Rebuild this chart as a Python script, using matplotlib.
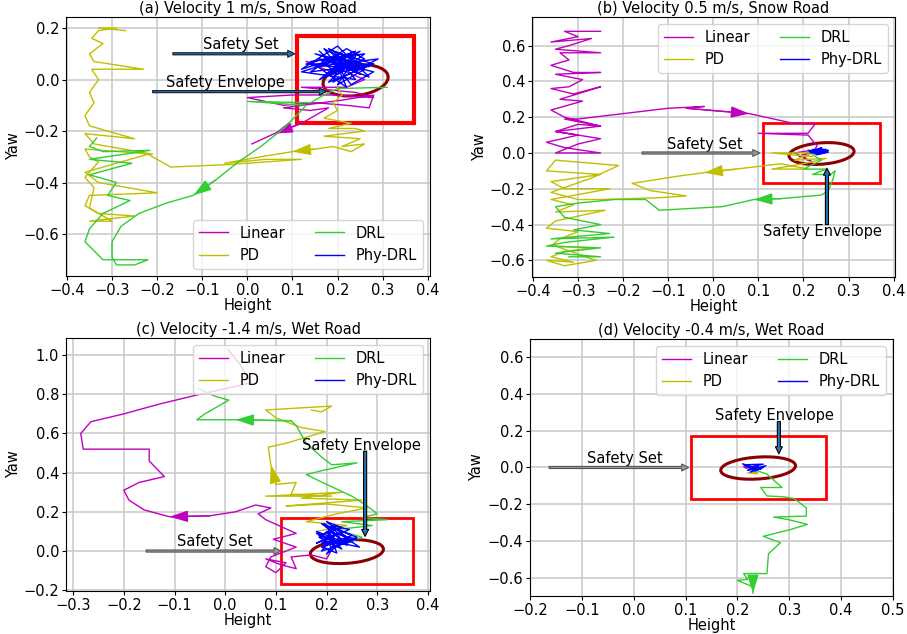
#!/usr/bin/env python
# -*- coding: utf-8 -*-

"""
Phase plots (Height vs Yaw) of four controllers, with safety set and envelope.
"""

# Third party modules.
import matplotlib
matplotlib.use("Agg")
import matplotlib.pyplot as plt
from matplotlib.patches import Ellipse, Rectangle

# Globals and constants variables.
LABELS = ["Linear", "PD", "DRL", "Phy-DRL"]
COLORS = ["m", "y", "limegreen", "b"]

# (a) Velocity 1 m/s, Snow Road
lin_a_x = [0.20, 0.13, 0.19, 0.26, 0.22, 0.12, 0.24, 0.28, 0.19, 0.10, 0.00, 0.08, 0.15, 0.22, 0.27, 0.28,
           0.21, 0.08, 0.14, 0.18, 0.12, 0.06, 0.01]
lin_a_y = [0.02, 0.07, 0.05, 0.00, -0.03, -0.03, -0.05, -0.07, -0.06, -0.06, -0.07, -0.10, -0.09, -0.10, -0.11,
           -0.06, -0.08, -0.11, -0.12, -0.11, -0.17, -0.21, -0.25]
pd_a_x = [0.20, 0.21, 0.19, 0.20, 0.17, 0.23, 0.18, 0.24, 0.26, 0.17, 0.25, 0.21, 0.26, 0.23, 0.19, 0.15, 0.10,
          0.03, -0.05, 0.04, 0.12, -0.04, -0.17, -0.22, -0.30, -0.36, -0.33, -0.20, -0.35, -0.36, -0.33, -0.25,
          -0.35, -0.30, -0.35, -0.34, -0.36, -0.33, -0.35, -0.36, -0.21, -0.34, -0.35, -0.36, -0.25, -0.35, -0.36,
          -0.34, -0.35, -0.33, -0.345, -0.23, -0.34, -0.35, -0.32, -0.345, -0.33, -0.29, -0.33, -0.27]
pd_a_y = [-0.03, -0.06, -0.09, -0.12, -0.15, -0.17, -0.19, -0.19, -0.20, -0.22, -0.23, -0.26, -0.25, -0.28,
          -0.26, -0.27, -0.28, -0.30, -0.325, -0.31, -0.31, -0.33, -0.34, -0.29, -0.33, -0.36, -0.40, -0.44,
          -0.45, -0.49, -0.52, -0.53, -0.55, -0.55, -0.50, -0.42, -0.38, -0.32, -0.30, -0.27, -0.29, -0.25,
          -0.23, -0.21, -0.23, -0.18, -0.14, -0.09, -0.05, 0.00, 0.04, 0.04, 0.07, 0.10, 0.14, 0.16, 0.19,
          0.20, 0.20, 0.19]
drl_a_x = [0.31, 0.20, 0.17, 0.14, 0.00, 0.13, 0.12, 0.08, 0.03, -0.02, -0.07, -0.12, -0.18, -0.24, -0.28, -0.30,
           -0.30, -0.29, -0.25, -0.22, -0.32, -0.36, -0.35, -0.32, -0.26, -0.31, -0.29, -0.35, -0.256, -0.35,
           -0.216, -0.32, -0.35, -0.334]
drl_a_y = [-0.03, -0.035, -0.06, -0.09, -0.085, -0.10, -0.12, -0.19, -0.26, -0.32, -0.39, -0.45, -0.48, -0.52,
           -0.57, -0.63, -0.69, -0.72, -0.72, -0.70, -0.70, -0.63, -0.58, -0.52, -0.47, -0.45, -0.40, -0.37,
           -0.325, -0.31, -0.275, -0.28, -0.26, -0.227]
phy_a_x = [0.21, 0.17, 0.25, 0.19, 0.28, 0.14, 0.22, 0.26, 0.16, 0.23, 0.12, 0.20, 0.27, 0.18, 0.24, 0.15, 0.29,
           0.19, 0.21, 0.13, 0.25, 0.17, 0.23, 0.28, 0.16, 0.20, 0.26, 0.14, 0.22, 0.19, 0.27, 0.18, 0.24, 0.12,
           0.21, 0.25, 0.17, 0.23, 0.20, 0.26, 0.15, 0.22, 0.19, 0.24, 0.18, 0.28, 0.21, 0.16]
phy_a_y = [0.05, 0.09, 0.02, 0.11, 0.06, 0.03, 0.12, 0.08, 0.00, 0.10, 0.04, 0.13, 0.01, 0.07, 0.11, 0.05, 0.08,
           -0.01, 0.10, 0.06, 0.04, 0.12, -0.02, 0.03, 0.08, 0.02, 0.10, 0.07, -0.03, 0.09, 0.05, 0.12, 0.00,
           0.03, 0.08, 0.11, 0.01, 0.06, -0.02, 0.04, 0.10, 0.07, 0.02, 0.09, -0.01, 0.06, 0.03, 0.11]
arrows_a = {"Linear": 20, "PD": 15, "DRL": 10}

# (b) Velocity 0.5 m/s, Snow Road
lin_b_x = [-0.25, -0.33, -0.30, -0.36, -0.27, -0.32, -0.35, -0.25, -0.34, -0.32, -0.36, -0.31, -0.25, -0.35,
           -0.29, -0.32, -0.36, -0.31, -0.25, -0.34, -0.29, -0.36, -0.33, -0.25, -0.35, -0.30, -0.37, -0.33,
           -0.25, -0.35, -0.30, -0.25, -0.35, -0.30, -0.25, -0.33, -0.30, -0.10, -0.02, -0.06, 0.08, 0.17, 0.225,
           0.21, 0.10, 0.21, 0.23, 0.225, 0.20, 0.22, 0.18, 0.23, 0.19, 0.22, 0.21]
lin_b_y = [0.68, 0.68, 0.65, 0.62, 0.64, 0.60, 0.58, 0.56, 0.56, 0.52, 0.49, 0.45, 0.45, 0.44, 0.41, 0.37, 0.36,
           0.33, 0.37, 0.30, 0.29, 0.24, 0.20, 0.15, 0.12, 0.10, 0.06, 0.03, 0.00, 0.00, 0.05, 0.08, 0.12, 0.16,
           0.15, 0.19, 0.19, 0.25, 0.26, 0.25, 0.22, 0.17, 0.16, 0.11, 0.11, 0.10, 0.04, 0.02, -0.03, -0.05, 0.00,
           0.02, -0.02, 0.01, 0.00]
pd_b_x = [0.22, 0.13, 0.22, 0.18, 0.25, 0.20, 0.13, 0.21, 0.15, 0.05, -0.02, -0.08, -0.18, -0.14, -0.06, -0.12,
          -0.25, -0.30, -0.36, -0.27, -0.21, -0.35, -0.37, -0.25, -0.36, -0.33, -0.23, -0.36, -0.31, -0.35, -0.24,
          -0.35, -0.37, -0.30, -0.34, -0.36, -0.27, -0.33, -0.36, -0.31, -0.37, -0.33, -0.26, -0.35]
pd_b_y = [-0.02, 0.00, 0.00, -0.04, -0.03, -0.06, -0.09, -0.09, -0.06, -0.09, -0.11, -0.13, -0.17, -0.21, -0.24,
          -0.25, -0.26, -0.26, -0.22, -0.14, -0.07, -0.04, -0.10, -0.12, -0.16, -0.20, -0.20, -0.26, -0.29, -0.33,
          -0.32, -0.38, -0.42, -0.44, -0.48, -0.52, -0.53, -0.55, -0.58, -0.61, -0.60, -0.63, -0.60, -0.52]
drl_b_x = [0.22, 0.24, 0.20, 0.25, 0.22, 0.26, 0.27, 0.265, 0.255, 0.24, 0.15, 0.09, 0.02, -0.12, -0.15, -0.22,
           -0.30, -0.35, -0.33, -0.25, -0.31, -0.23, -0.36, -0.22, -0.33, -0.37, -0.25, -0.32, -0.35, -0.25, -0.32]
drl_b_y = [-0.01, -0.04, -0.09, -0.09, -0.12, -0.12, -0.10, -0.15, -0.21, -0.235, -0.255, -0.26, -0.30, -0.32,
           -0.26, -0.26, -0.28, -0.30, -0.36, -0.40, -0.43, -0.45, -0.48, -0.47, -0.50, -0.52, -0.53, -0.55,
           -0.56, -0.58, -0.58]
phy_b_x = [0.22, 0.25, 0.215, 0.24, 0.255, 0.23, 0.21, 0.245, 0.22, 0.25, 0.235, 0.215, 0.24, 0.225, 0.255, 0.23]
phy_b_y = [0.01, 0.02, 0.0, 0.025, 0.005, -0.01, 0.015, 0.0, 0.02, 0.01, -0.005, 0.01, 0.03, 0.005, 0.015, 0.0]
arrows_b = {"Linear": 39, "PD": 9, "DRL": 10}

# (c) Velocity -1.4 m/s, Wet Road
lin_c_x = [0.22, 0.20, 0.17, 0.13, 0.14, 0.11, 0.08, 0.12, 0.10, 0.08, 0.09, 0.14, 0.095, 0.14, 0.08, 0.065,
           0.09, 0.06, 0.02, -0.03, -0.11, -0.16, -0.19, -0.20, -0.17, -0.12, -0.15, -0.15, -0.28, -0.285, -0.265,
           -0.20, -0.13, -0.05, 0.02, 0.05, 0.03, 0.005]
lin_c_y = [0.05, -0.04, -0.02, -0.03, -0.09, -0.07, -0.04, -0.06, -0.11, -0.08, -0.03, 0.02, 0.06, 0.09, 0.16,
           0.19, 0.22, 0.235, 0.20, 0.18, 0.175, 0.21, 0.26, 0.31, 0.35, 0.38, 0.46, 0.52, 0.52, 0.60, 0.66, 0.70,
           0.75, 0.80, 0.84, 0.86, 0.95, 1.03]
pd_c_x = [0.22, 0.18, 0.24, 0.16, 0.22, 0.28, 0.20, 0.12, 0.27, 0.15, 0.23, 0.08, 0.21, 0.13, 0.14, 0.10, 0.09,
          0.085, 0.12, 0.197, 0.15, 0.10, 0.08, 0.21, 0.19, 0.17]
pd_c_y = [0.03, 0.10, 0.13, 0.15, 0.19, 0.22, 0.24, 0.23, 0.26, 0.27, 0.30, 0.28, 0.28, 0.29, 0.35, 0.34, 0.44,
          0.53, 0.55, 0.61, 0.63, 0.68, 0.72, 0.74, 0.71, 0.72]
drl_c_x = [0.24, 0.27, 0.22, 0.29, 0.23, 0.32, 0.27, 0.30, 0.28, 0.25, 0.20, 0.16, 0.19, 0.26, 0.21, 0.19, 0.16,
           0.14, 0.13, 0.02, -0.056, -0.04, 0.007, -0.02, -0.053]
drl_c_y = [0.04, 0.07, 0.11, 0.13, 0.15, 0.16, 0.17, 0.19, 0.23, 0.28, 0.34, 0.39, 0.41, 0.45, 0.44, 0.48, 0.55,
           0.64, 0.665, 0.67, 0.67, 0.70, 0.77, 0.79, 0.83]
phy_c_x = [0.20, 0.18, 0.24, 0.19, 0.26, 0.21, 0.185, 0.23, 0.20, 0.25, 0.19, 0.22, 0.18, 0.245, 0.21, 0.195,
           0.26, 0.20, 0.23, 0.185, 0.215, 0.25, 0.19, 0.22, 0.205, 0.24, 0.18, 0.21, 0.265, 0.195, 0.225, 0.20,
           0.24, 0.19, 0.215]
phy_c_y = [0.06, 0.10, 0.04, 0.14, 0.07, 0.02, 0.08, 0.12, 0.15, 0.05, 0.00, 0.09, 0.04, 0.11, 0.13, 0.03, 0.06,
           0.10, 0.01, 0.07, 0.12, 0.08, 0.02, -0.01, 0.11, 0.03, 0.09, 0.05, 0.02, 0.14, 0.07, -0.015, 0.06,
           0.04, 0.08]
arrows_c = {"Linear": 19, "PD": 15, "DRL": 18}

# (d) Velocity -0.4 m/s, Wet Road
lin_d_x = [0.215, 0.22, 0.212, 0.218]
lin_d_y = [0.0, 0.01, 0.005, -0.005]
pd_d_x = [0.22, 0.24, 0.225, 0.235]
pd_d_y = [-0.03, -0.03, -0.025, -0.035]
drl_d_x = [0.24, 0.257, 0.286, 0.245, 0.257, 0.29, 0.31, 0.333, 0.333, 0.27, 0.30, 0.335, 0.30, 0.25, 0.283,
           0.26, 0.257, 0.212, 0.22, 0.20, 0.23, 0.23]
drl_d_y = [-0.02, -0.036, -0.109, -0.109, -0.155, -0.16, -0.17, -0.22, -0.265, -0.27, -0.285, -0.31, -0.34,
           -0.375, -0.41, -0.47, -0.578, -0.578, -0.61, -0.615, -0.65, -0.685]
phy_d_x = [0.215, 0.25, 0.22, 0.245, 0.21, 0.235, 0.255, 0.22, 0.24, 0.225, 0.25, 0.23]
phy_d_y = [0.015, 0.018, 0.0, -0.01, 0.02, -0.02, 0.01, -0.015, 0.005, -0.025, 0.0, -0.01]
arrows_d = {"DRL": 20}

# Safety set box and safety envelope ellipse (data units).
safe_box = (0.11, -0.17, 0.37, 0.17)
envelope = (0.24, -0.003, 0.15, 0.115, 25)


def add_safety(ax, box_lw):
    x0, y0, x1, y1 = safe_box
    ax.add_patch(Rectangle((x0, y0), x1 - x0, y1 - y0, fill=False, edgecolor="red", lw=box_lw, zorder=1))
    cx, cy, w, h, ang = envelope
    ax.add_patch(Ellipse((cx, cy), w, h, angle=ang, fill=False, edgecolor="darkred", lw=2.2, zorder=1))


def big_arrow(ax, start, end, face, edge, width=1.5):
    ax.annotate("", xy=end, xytext=start,
                arrowprops=dict(facecolor=face, edgecolor=edge, width=width, headwidth=5, headlength=5,
                                shrink=0, lw=0.8), zorder=4)


def draw_panel(ax, title, series, arrows):
    for (xs, ys), label, color in zip(series, LABELS, COLORS):
        ax.plot(xs, ys, color=color, lw=1, label=label, zorder=2)
        if label in arrows:
            i = arrows[label]
            ax.annotate("", xy=(xs[i + 1], ys[i + 1]), xytext=(xs[i], ys[i]),
                        arrowprops=dict(arrowstyle="-|>,head_length=0.8,head_width=0.25", color=color, lw=1,
                                        mutation_scale=14, shrinkA=0, shrinkB=0), zorder=2)
    ax.set_title(title, fontsize=10.5, pad=3)
    ax.set_xlabel("Height", fontsize=10.5, labelpad=0)
    ax.set_ylabel("Yaw", fontsize=10.5, labelpad=2)
    ax.grid(True, color="#c8c8c8", lw=1.1)
    ax.set_axisbelow(True)
    ax.tick_params(labelsize=10.5, length=3, pad=2)


def run():
    fig = plt.figure(figsize=(9.07, 6.34), dpi=100)

    ax = fig.add_axes([0.0728, 0.5647, 0.4013, 0.4085])
    draw_panel(ax, "(a) Velocity 1 m/s, Snow Road",
               [(lin_a_x, lin_a_y), (pd_a_x, pd_a_y), (drl_a_x, drl_a_y), (phy_a_x, phy_a_y)], arrows_a)
    add_safety(ax, 3)
    ax.set_xlim(-0.402, 0.405)
    ax.set_ylim(-0.763, 0.243)
    ax.set_xticks([-0.4, -0.3, -0.2, -0.1, 0.0, 0.1, 0.2, 0.3, 0.4])
    ax.set_yticks([-0.6, -0.4, -0.2, 0.0, 0.2])
    big_arrow(ax, (-0.165, 0.1), (0.105, 0.1), "#1f77b4", "#1a1a2a")
    big_arrow(ax, (-0.21, -0.047), (0.175, -0.047), "#1f77b4", "#1a1a2a")
    ax.text(-0.014, 0.137, "Safety Set", ha="center", va="center", fontsize=10.5)
    ax.text(-0.048, -0.012, "Safety Envelope", ha="center", va="center", fontsize=10.5)
    ax.legend(ncol=2, loc="lower right", fontsize=10.5)

    ax = fig.add_axes([0.5866, 0.5631, 0.4002, 0.4101])
    draw_panel(ax, "(b) Velocity 0.5 m/s, Snow Road",
               [(lin_b_x, lin_b_y), (pd_b_x, pd_b_y), (drl_b_x, drl_b_y), (phy_b_x, phy_b_y)], arrows_b)
    add_safety(ax, 2)
    ax.set_xlim(-0.402, 0.403)
    ax.set_ylim(-0.693, 0.76)
    ax.set_xticks([-0.4, -0.3, -0.2, -0.1, 0.0, 0.1, 0.2, 0.3, 0.4])
    ax.set_yticks([-0.6, -0.4, -0.2, 0.0, 0.2, 0.4, 0.6])
    big_arrow(ax, (-0.158, 0.0), (0.103, 0.0), "#9a9a9a", "#555555")
    big_arrow(ax, (0.252, -0.40), (0.252, -0.085), "#1f77b4", "black", width=2.2)
    ax.text(-0.019, 0.05, "Safety Set", ha="center", va="center", fontsize=10.5)
    ax.text(0.241, -0.436, "Safety Envelope", ha="center", va="center", fontsize=10.5)
    ax.legend(ncol=2, loc="upper right", fontsize=10.5)

    ax = fig.add_axes([0.0728, 0.0678, 0.4013, 0.399])
    draw_panel(ax, "(c) Velocity -1.4 m/s, Wet Road",
               [(lin_c_x, lin_c_y), (pd_c_x, pd_c_y), (drl_c_x, drl_c_y), (phy_c_x, phy_c_y)], arrows_c)
    add_safety(ax, 2)
    ax.set_xlim(-0.314, 0.404)
    ax.set_ylim(-0.204, 1.087)
    ax.set_xticks([-0.3, -0.2, -0.1, 0.0, 0.1, 0.2, 0.3, 0.4])
    ax.set_yticks([-0.2, 0.0, 0.2, 0.4, 0.6, 0.8, 1.0])
    big_arrow(ax, (-0.156, 0.0), (0.11, 0.0), "#9a9a9a", "#555555")
    big_arrow(ax, (0.276, 0.51), (0.276, 0.075), "#1f77b4", "black", width=2.2)
    ax.text(-0.02, 0.047, "Safety Set", ha="center", va="center", fontsize=10.5)
    ax.text(0.268, 0.54, "Safety Envelope", ha="center", va="center", fontsize=10.5)
    ax.legend(ncol=2, loc="upper right", fontsize=10.5)

    ax = fig.add_axes([0.5843, 0.0600, 0.4002, 0.4053])
    draw_panel(ax, "(d) Velocity -0.4 m/s, Wet Road",
               [(lin_d_x, lin_d_y), (pd_d_x, pd_d_y), (drl_d_x, drl_d_y), (phy_d_x, phy_d_y)], arrows_d)
    add_safety(ax, 2)
    ax.set_xlim(-0.2, 0.5)
    ax.set_ylim(-0.70, 0.70)
    ax.set_xticks([-0.2, -0.1, 0.0, 0.1, 0.2, 0.3, 0.4, 0.5])
    ax.set_yticks([-0.6, -0.4, -0.2, 0.0, 0.2, 0.4, 0.6])
    big_arrow(ax, (-0.163, 0.0), (0.106, 0.0), "#9a9a9a", "#555555")
    big_arrow(ax, (0.28, 0.25), (0.28, 0.075), "#1f77b4", "black", width=2.2)
    ax.text(-0.018, 0.049, "Safety Set", ha="center", va="center", fontsize=10.5)
    ax.text(0.271, 0.284, "Safety Envelope", ha="center", va="center", fontsize=10.5)
    ax.legend(ncol=2, loc="upper right", fontsize=10.5)

    fig.savefig("out.png", dpi=100)


def main():
    run()


if __name__ == '__main__':  # pragma: no cover
    main()
